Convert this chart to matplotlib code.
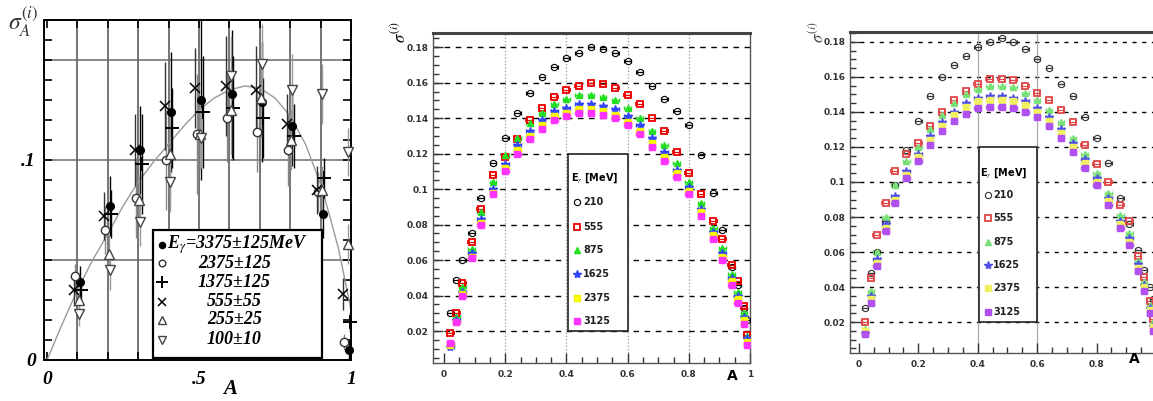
import matplotlib.pyplot as plt
import matplotlib.patches as patches
from matplotlib.ticker import MultipleLocator, FixedLocator, FixedFormatter

plt.rcParams['mathtext.fontset'] = 'stix'

# ---------------- left panel: measured sigma_A at A = 0.1 .. 1 ----------------
a_left = [0.1, 0.2, 0.3, 0.4, 0.5, 0.6, 0.7, 0.8, 0.9, 0.985]
y_3375 = [0.039, 0.077, 0.105, 0.124, 0.130, 0.133, 0.129, 0.117, 0.073, 0.005]
y_2375 = [0.042, 0.065, 0.081, 0.100, 0.113, 0.121, 0.114, 0.105, 0.084, 0.009]
y_1375 = [0.035, 0.073, 0.098, 0.116, 0.124, 0.126, 0.121, 0.112, 0.091, 0.019]
y_555 = [0.035, 0.072, 0.105, 0.127, 0.136, 0.137, 0.135, 0.118, 0.085, 0.033]
y_255 = [0.030, 0.053, 0.080, 0.103, 0.113, 0.125, 0.131, 0.110, 0.085, 0.058]
y_100 = [0.023, 0.045, 0.069, 0.089, 0.111, 0.142, 0.148, 0.135, 0.133, 0.104]
e_3375 = [0.008, 0.015, 0.022, 0.030, 0.040, 0.032, 0.030, 0.020, 0.012, 0.005]
e_2375 = [0.006, 0.012, 0.020, 0.025, 0.030, 0.022, 0.020, 0.018, 0.010, 0.004]
e_1375 = [0.006, 0.012, 0.025, 0.020, 0.028, 0.026, 0.020, 0.016, 0.010, 0.005]
e_555 = [0.008, 0.012, 0.018, 0.022, 0.020, 0.025, 0.022, 0.015, 0.012, 0.008]
e_255 = [0.006, 0.010, 0.012, 0.020, 0.018, 0.022, 0.020, 0.015, 0.012, 0.010]
e_100 = [0.006, 0.010, 0.012, 0.015, 0.015, 0.020, 0.020, 0.018, 0.015, 0.012]
left_labels = [r'E$_\gamma$=3375±125MeV', '2375±125', '1375±125',
               '555±55', '255±25', '100±10']
fit_a = [0, 0.05, 0.1, 0.15, 0.2, 0.25, 0.3, 0.35, 0.4, 0.45, 0.5, 0.55, 0.6,
         0.65, 0.7, 0.75, 0.8, 0.85, 0.9, 0.93, 0.96, 0.98, 1.0]
fit_y = [0, 0.018, 0.035, 0.050, 0.063, 0.077, 0.089, 0.099, 0.108, 0.117,
         0.125, 0.131, 0.135, 0.137, 0.136, 0.131, 0.122, 0.108, 0.088, 0.072,
         0.055, 0.040, 0.025]

# ---------------- middle / right panels: model curves ----------------
a_grid = [0.02, 0.04, 0.06, 0.09, 0.12, 0.16, 0.20, 0.24, 0.28, 0.32, 0.36,
          0.40, 0.44, 0.48, 0.52, 0.56, 0.60, 0.64, 0.68, 0.72, 0.76, 0.80,
          0.84, 0.88, 0.91, 0.94, 0.96, 0.98, 0.99]
energies = ['210', '555', '875', '1625', '2375', '3125']

m210 = [0.030, 0.049, 0.060, 0.075, 0.095, 0.115, 0.129, 0.143, 0.154, 0.163,
        0.169, 0.174, 0.177, 0.180, 0.179, 0.177, 0.172, 0.166, 0.158, 0.151,
        0.144, 0.136, 0.119, 0.098, 0.077, 0.056, 0.046, 0.033, 0.026]
m555 = [0.019, 0.030, 0.047, 0.070, 0.089, 0.108, 0.118, 0.128, 0.139, 0.146,
        0.152, 0.156, 0.158, 0.160, 0.159, 0.157, 0.153, 0.148, 0.140, 0.133,
        0.121, 0.109, 0.097, 0.082, 0.072, 0.057, 0.048, 0.034, 0.018]
m875 = [0.012, 0.028, 0.045, 0.066, 0.087, 0.104, 0.119, 0.129, 0.137, 0.143,
        0.148, 0.151, 0.153, 0.153, 0.152, 0.150, 0.146, 0.140, 0.133, 0.125,
        0.115, 0.104, 0.092, 0.078, 0.067, 0.052, 0.042, 0.030, 0.017]
m1625 = [0.011, 0.026, 0.042, 0.064, 0.083, 0.100, 0.114, 0.125, 0.133, 0.139,
         0.144, 0.146, 0.148, 0.148, 0.147, 0.145, 0.141, 0.136, 0.129, 0.121,
         0.111, 0.101, 0.089, 0.076, 0.064, 0.050, 0.040, 0.028, 0.016]
m2375 = [0.012, 0.025, 0.041, 0.062, 0.081, 0.098, 0.112, 0.122, 0.130, 0.136,
         0.141, 0.143, 0.145, 0.145, 0.144, 0.142, 0.138, 0.133, 0.126, 0.118,
         0.109, 0.099, 0.087, 0.074, 0.062, 0.048, 0.038, 0.026, 0.014]
m3125 = [0.013, 0.025, 0.040, 0.061, 0.080, 0.097, 0.110, 0.120, 0.128, 0.134,
         0.139, 0.141, 0.143, 0.143, 0.142, 0.140, 0.136, 0.131, 0.124, 0.116,
         0.107, 0.097, 0.085, 0.072, 0.060, 0.046, 0.036, 0.024, 0.012]

r210 = [0.028, 0.048, 0.060, 0.078, 0.098, 0.118, 0.135, 0.149, 0.160, 0.167,
        0.172, 0.177, 0.180, 0.182, 0.180, 0.176, 0.170, 0.165, 0.156, 0.149,
        0.137, 0.125, 0.111, 0.091, 0.076, 0.061, 0.050, 0.040, 0.033]
r555 = [0.020, 0.045, 0.070, 0.088, 0.106, 0.116, 0.122, 0.132, 0.140, 0.147,
        0.152, 0.156, 0.159, 0.159, 0.158, 0.155, 0.151, 0.147, 0.141, 0.134,
        0.121, 0.110, 0.100, 0.087, 0.078, 0.058, 0.046, 0.032, 0.022]
r875 = [0.016, 0.038, 0.060, 0.080, 0.098, 0.112, 0.120, 0.130, 0.138, 0.145,
        0.150, 0.153, 0.155, 0.155, 0.154, 0.151, 0.147, 0.141, 0.134, 0.125,
        0.116, 0.105, 0.094, 0.081, 0.071, 0.055, 0.043, 0.030, 0.020]
r1625 = [0.014, 0.035, 0.056, 0.076, 0.092, 0.106, 0.116, 0.126, 0.134, 0.140,
         0.145, 0.148, 0.149, 0.149, 0.148, 0.146, 0.142, 0.137, 0.130, 0.122,
         0.113, 0.102, 0.091, 0.078, 0.068, 0.053, 0.041, 0.028, 0.018]
r2375 = [0.015, 0.033, 0.054, 0.074, 0.090, 0.104, 0.114, 0.124, 0.132, 0.138,
         0.143, 0.146, 0.147, 0.147, 0.146, 0.144, 0.140, 0.135, 0.128, 0.120,
         0.111, 0.100, 0.089, 0.076, 0.066, 0.051, 0.040, 0.027, 0.017]
r3125 = [0.013, 0.031, 0.052, 0.072, 0.088, 0.102, 0.112, 0.121, 0.129, 0.135,
         0.139, 0.142, 0.143, 0.143, 0.142, 0.140, 0.137, 0.132, 0.125, 0.117,
         0.108, 0.098, 0.087, 0.074, 0.064, 0.049, 0.038, 0.025, 0.015]

y_ticks = [0.02, 0.04, 0.06, 0.08, 0.1, 0.12, 0.14, 0.16, 0.18]
y_tick_labels = ['0.02', '0.04', '0.06', '0.08', '0.1', '0.12', '0.14', '0.16', '0.18']
x_ticks = [0, 0.2, 0.4, 0.6, 0.8, 1.0]
x_tick_labels = ['0', '0.2', '0.4', '0.6', '0.8', '1']

SERIF = dict(family='Liberation Serif', style='italic', weight='bold')

fig = plt.figure(figsize=(11.53, 4.01), dpi=100)

# ================= left panel =================
ax1 = fig.add_axes([44 / 1153, 41 / 401, 307 / 1153, 340 / 401])
ax1.set_xlim(-0.01, 1.0)
ax1.set_ylim(0, 0.17)
for x in [0.1, 0.2, 0.3, 0.4, 0.5, 0.6, 0.7, 0.8, 0.9]:
    ax1.axvline(x, color='#6a6a6a', lw=1.3, zorder=1)
for y in [0.05, 0.1, 0.15]:
    ax1.axhline(y, color='#6a6a6a', lw=1.1, zorder=1)
ax1.plot(fit_a, fit_y, color='#9a9a9a', lw=1.0, zorder=2)

left_series = [
    (y_3375, e_3375, dict(marker='o', mfc='black', mec='black', ms=5.5), 0.007, 'black'),
    (y_2375, e_2375, dict(marker='o', mfc='white', mec='#333333', ms=6), -0.008, '#888888'),
    (y_1375, e_1375, dict(marker='+', mfc='black', mec='black', ms=10, mew=1.4), 0.012, 'black'),
    (y_555, e_555, dict(marker='x', mfc='black', mec='black', ms=7, mew=1.1), -0.012, '#333333'),
    (y_255, e_255, dict(marker='^', mfc='white', mec='#444444', ms=7.5), 0.004, '#999999'),
    (y_100, e_100, dict(marker='v', mfc='white', mec='#444444', ms=7.5), 0.006, '#999999'),
]
for yv, ev, st, dx, ec in left_series:
    ax1.errorbar([a + dx for a in a_left], yv, yerr=ev, ls='none', ecolor=ec,
                 elinewidth=1.0, capsize=0, zorder=3, clip_on=False, **st)

ax1.xaxis.set_major_locator(FixedLocator([0, 0.5, 1.0]))
ax1.xaxis.set_major_formatter(FixedFormatter(['0', '.5', '1']))
ax1.xaxis.set_minor_locator(MultipleLocator(0.1))
ax1.yaxis.set_major_locator(FixedLocator([0, 0.1]))
ax1.yaxis.set_major_formatter(FixedFormatter(['0', '.1']))
ax1.yaxis.set_minor_locator(MultipleLocator(0.01))
ax1.tick_params(which='both', direction='in', top=True, right=True, length=6, width=1.2)
ax1.tick_params(axis='x', pad=8)
ax1.tick_params(axis='y', pad=6)
for lab in ax1.get_xticklabels() + ax1.get_yticklabels():
    lab.set_fontproperties(SERIF)
    lab.set_fontsize(14)
for sp in ax1.spines.values():
    sp.set_linewidth(1.4)

box = patches.Rectangle((0.355, 0.006), 0.551, 0.376, transform=ax1.transAxes,
                        facecolor='white', edgecolor='black', lw=1.6, zorder=5)
ax1.add_patch(box)
row_y = [0.338, 0.285, 0.229, 0.171, 0.118, 0.059]
for i, (lab, ry) in enumerate(zip(left_labels, row_y)):
    st = left_series[i][2]
    ax1.plot([0.385], [ry], transform=ax1.transAxes, ls='none', zorder=6,
             **{k: (v * 0.8 if k == 'ms' else v) for k, v in st.items()})
    if i == 0:
        ax1.text(0.402, ry, lab, transform=ax1.transAxes, ha='left', va='center',
                 fontsize=13, zorder=6, **SERIF)
    else:
        ax1.text(0.62, ry, lab, transform=ax1.transAxes, ha='center', va='center',
                 fontsize=13, zorder=6, **SERIF)

fig.text(8 / 1153, 1 - 30 / 401, r'$\sigma_A^{(i)}$', fontsize=17, color='#333333')
ax1.text(0.606, -0.085, 'A', transform=ax1.transAxes, ha='center', va='center',
         fontsize=15, **SERIF)


# ================= middle and right panels =================
def model_panel(ax, series, styles, ylim, xlim, hdash, vgrid, vstyle,
                xlabels, legend_rows):
    ax.set_xlim(*xlim)
    ax.set_ylim(*ylim)
    for y in y_ticks:
        ax.axhline(y, color='black', lw=1.0, ls=(0, hdash), zorder=1)
    for x in vgrid:
        ax.axvline(x, zorder=1, **vstyle)
    for yv, st in zip(series, styles):
        ax.errorbar(a_grid, yv, xerr=0.011, ls='none', ecolor=st['mec'],
                    elinewidth=0.9, capsize=1.5, zorder=3, **st)
    ax.yaxis.set_major_locator(FixedLocator(y_ticks))
    ax.yaxis.set_major_formatter(FixedFormatter(y_tick_labels))
    ax.yaxis.set_minor_locator(MultipleLocator(0.005))
    ax.xaxis.set_major_locator(FixedLocator(x_ticks[:len(xlabels)]))
    ax.xaxis.set_major_formatter(FixedFormatter(xlabels))
    ax.xaxis.set_minor_locator(MultipleLocator(0.05))
    ax.tick_params(which='major', direction='in', length=7, width=1.0,
                   labelsize=6.5, labelcolor='#333333', color='#333333')
    ax.tick_params(which='minor', direction='in', length=4, width=1.0, color='#333333')
    for lab in ax.get_xticklabels() + ax.get_yticklabels():
        lab.set_fontweight('bold')
    ax.tick_params(axis='y', pad=3)
    ax.tick_params(axis='x', pad=5)
    for sp in ax.spines.values():
        sp.set_color('#555555')
        sp.set_linewidth(1.0)
    ax.spines['top'].set_linewidth(2.2)
    ax.spines['top'].set_color('#444444')

    rect = patches.Rectangle((0.405, 0.02), 0.195, 0.10, facecolor='white',
                             edgecolor='#222222', lw=1.2, zorder=5)
    ax.add_patch(rect)
    hx, hy, mx, tx, rows = legend_rows
    ax.text(hx, hy, r'E$_\gamma$ [MeV]', fontsize=7, fontweight='bold',
            ha='left', va='center', zorder=6)
    for en, st, ry in zip(energies, styles, rows):
        ax.plot([mx], [ry], ls='none', zorder=6, **st)
        ax.text(tx, ry, en, fontsize=7, fontweight='bold', ha='left',
                va='center', color='#222222', zorder=6)


styles_mid = [
    dict(marker='o', mfc='none', mec='black', ms=4.5, mew=0.8),
    dict(marker='s', mfc='none', mec='#ee0000', ms=5, mew=1.3),
    dict(marker='^', mfc='#22dd22', mec='#22dd22', ms=5),
    dict(marker='*', mfc='#3344ff', mec='#3344ff', ms=6),
    dict(marker='s', mfc='#ffff00', mec='#f2f200', ms=4.6),
    dict(marker='s', mfc='#ff33ff', mec='#ff33ff', ms=4.6),
]
styles_right = [
    dict(marker='o', mfc='none', mec='#333333', ms=4.5, mew=0.8),
    dict(marker='s', mfc='none', mec='#e04848', ms=5, mew=1.3),
    dict(marker='^', mfc='#77e077', mec='#77e077', ms=5),
    dict(marker='*', mfc='#5050e8', mec='#5050e8', ms=6),
    dict(marker='s', mfc='#f0f060', mec='#f0f060', ms=4.6),
    dict(marker='s', mfc='#b050f0', mec='#b050f0', ms=4.6),
]

ax2 = fig.add_axes([433 / 1153, 38 / 401, 317 / 1153, 330 / 401])
model_panel(ax2, [m210, m555, m875, m1625, m2375, m3125], styles_mid,
            (0.002, 0.188), (-0.036, 1.0), (4, 4), [0.2, 0.4, 0.6, 0.8],
            dict(color='#999999', lw=0.9, ls=':'), x_tick_labels,
            (0.415, 0.106, 0.434, 0.455,
             [0.0926, 0.0786, 0.0655, 0.0524, 0.0387, 0.0256]))
fig.text(390 / 1153, 1 - 32 / 401, r'$\sigma^{(i)}$', rotation=90, fontsize=12,
         fontweight='bold', ha='left', va='center')
ax2.text(0.945, -0.04, 'A', transform=ax2.transAxes, fontsize=10,
         fontweight='bold', ha='center', va='center')

ax3 = fig.add_axes([850 / 1153, 48 / 401, 306 / 1153, 321 / 401])
model_panel(ax3, [r210, r555, r875, r1625, r2375, r3125], styles_right,
            (0.0023, 0.1857), (-0.03, 1.0), (3, 4), [0.4, 0.6],
            dict(color='#aaaaaa', lw=0.9, ls='-'), x_tick_labels[:-1],
            (0.407, 0.105, 0.434, 0.452,
             [0.0926, 0.0793, 0.0659, 0.0526, 0.0393, 0.0259]))
fig.text(808 / 1153, 1 - 32 / 401, r'$\sigma^{(i)}$', rotation=90, fontsize=12,
         fontweight='bold', ha='left', va='center', color='#444444')
ax3.text(0.93, -0.02, 'A', transform=ax3.transAxes, fontsize=10,
         fontweight='bold', ha='center', va='center')

fig.savefig('out.png', dpi=100)
